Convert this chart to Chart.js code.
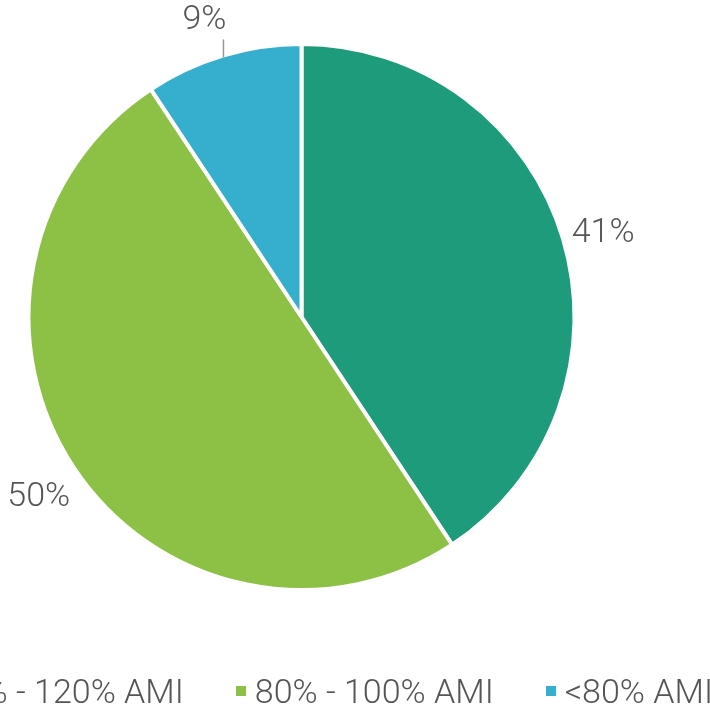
<!DOCTYPE html>
<html>
<head>
<meta charset="utf-8">
<script src="https://cdn.jsdelivr.net/npm/chart.js@4.4.0/dist/chart.umd.min.js"></script>
<style>
  html, body { margin: 0; padding: 0; width: 710px; height: 707px; overflow: hidden; background: #fff; }
  #wrap { position: absolute; left: 0; top: 0; width: 710px; height: 707px; }
  #legend { position: absolute; top: 673px; left: 310px; transform: translateX(-50%);
    display: flex; white-space: nowrap; font-family: Roboto, "Liberation Sans", sans-serif; font-weight: 300;
    font-size: 34px; color: #555; line-height: 36px; }
  .item { display: flex; align-items: center; margin: 0 26px; }
  .box { width: 10px; height: 10px; margin-right: 9px; }
</style>
</head>
<body>
<div id="wrap"><canvas id="c" width="710" height="707"></canvas></div>
<div id="legend"></div>
<script>
const categories = ["100% - 120% AMI", "80% - 100% AMI", "<80% AMI"];
const shares = [40.7, 50.0, 9.3];
const colors = ["#1e9b7a", "#8cc145", "#36aecd"];

const FONT = '300 34px Roboto, "Liberation Sans", sans-serif';

const outsideLabels = {
  id: 'outsideLabels',
  afterDatasetsDraw(chart) {
    const ctx = chart.ctx;
    const meta = chart.getDatasetMeta(0);
    const total = shares.reduce((a, b) => a + b, 0);
    ctx.save();
    ctx.font = FONT;
    ctx.fillStyle = '#555';
    ctx.textAlign = 'center';
    ctx.textBaseline = 'middle';
    meta.data.forEach((arc, i) => {
      const p = arc.getProps(['x', 'y', 'startAngle', 'endAngle', 'outerRadius'], true);
      const mid = (p.startAngle + p.endAngle) / 2;
      const pct = Math.round(shares[i] / total * 100) + '%';
      if (shares[i] / total < 0.15) {
        const ex = p.x + Math.cos(mid) * (p.outerRadius - 2);
        const ey = p.y + Math.sin(mid) * (p.outerRadius - 2);
        ctx.strokeStyle = '#999';
        ctx.lineWidth = 1.5;
        ctx.beginPath();
        ctx.moveTo(ex, ey);
        ctx.lineTo(ex, ey - 18);
        ctx.stroke();
        ctx.fillText(pct, ex - 19, ey - 37);
      } else {
        const r = p.outerRadius + 42;
        ctx.fillText(pct, p.x + Math.cos(mid) * r, p.y + Math.sin(mid) * r + 7);
      }
    });
    ctx.restore();
  }
};

new Chart(document.getElementById('c'), {
  type: 'pie',
  data: {
    labels: categories,
    datasets: [{
      data: shares,
      backgroundColor: colors,
      borderColor: '#ffffff',
      borderWidth: 4,
      hoverOffset: 0
    }]
  },
  options: {
    responsive: false,
    animation: false,
    layout: { padding: { top: 42, bottom: 115, left: 0, right: 107 } },
    plugins: {
      legend: { display: false },
      tooltip: { enabled: false }
    }
  },
  plugins: [outsideLabels]
});

const lg = document.getElementById('legend');
categories.forEach((c, i) => {
  const it = document.createElement('div');
  it.className = 'item';
  const b = document.createElement('span');
  b.className = 'box';
  b.style.background = colors[i];
  const t = document.createElement('span');
  t.textContent = c;
  it.appendChild(b); it.appendChild(t);
  lg.appendChild(it);
});
</script>
</body>
</html>
